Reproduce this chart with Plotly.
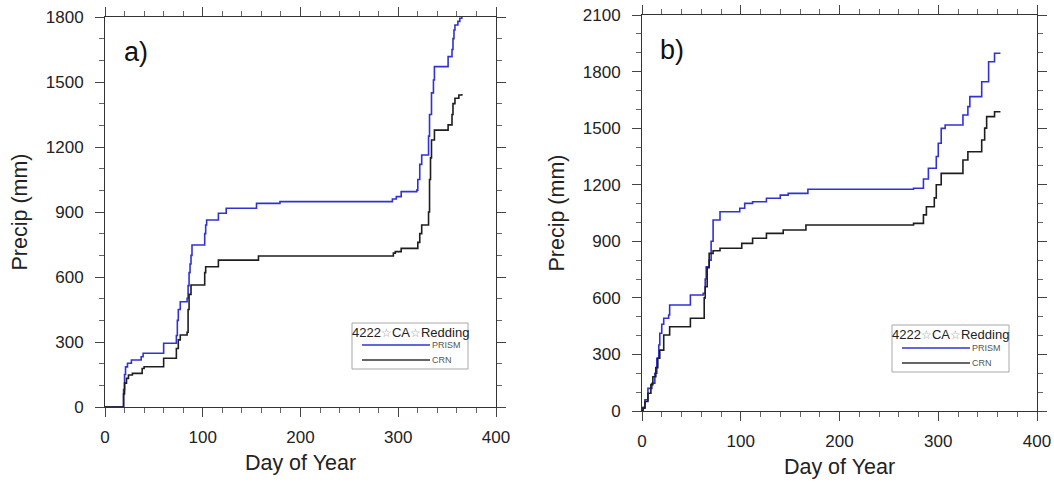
import plotly.graph_objects as go

W, H = 1054, 482

# ---------------- data ----------------
# Panel a)
a_prism_day = [0, 18, 19, 20, 21, 23, 27, 37, 39, 60, 73, 74, 75, 77, 84, 85, 86, 87, 88, 89,
               102, 103, 104, 116, 124, 155, 179, 294, 298, 303, 319, 320, 322, 324, 331, 332,
               334, 336, 337, 351, 355, 356, 357, 358, 361, 363, 365]
a_prism_val = [0, 0, 80, 150, 185, 202, 217, 232, 248, 294, 330, 400, 450, 486, 502, 560, 620, 660, 700, 748,
               800, 840, 863, 894, 917, 940, 948, 960, 971, 994, 1001, 1050, 1120, 1163, 1250, 1350,
               1450, 1509, 1571, 1617, 1650, 1700, 1740, 1763, 1780, 1794, 1800]
a_crn_day = [0, 18, 19, 20, 22, 24, 28, 38, 40, 60, 73, 75, 77, 84, 85, 86, 88, 102, 103, 116, 157,
             295, 297, 303, 320, 322, 324, 331, 332, 333, 334, 337, 351, 355, 356, 358, 362, 365]
a_crn_val = [0, 0, 60, 110, 132, 148, 155, 178, 186, 225, 270, 310, 332, 345, 450, 520, 563, 620, 647, 678, 697,
             710, 717, 732, 760, 800, 840, 900, 1050, 1150, 1232, 1278, 1302, 1350, 1400, 1425, 1440, 1445]

# Panel b)
b_prism_day = [0, 1, 3, 6, 10, 13, 15, 17, 18, 20, 22, 27, 28, 49, 62, 64, 65, 68, 70, 72, 79, 99, 104,
               112, 126, 140, 148, 168, 275, 285, 290, 298, 300, 303, 307, 325, 330, 332, 344, 351, 357, 363]
b_prism_val = [0, 20, 60, 120, 147, 200, 280, 350, 412, 460, 492, 509, 562, 615, 624, 700, 765, 800, 900, 1013,
               1057, 1075, 1101, 1110, 1128, 1145, 1154, 1176, 1181, 1230, 1287, 1350, 1420, 1499, 1517,
               1570, 1614, 1667, 1746, 1852, 1897, 1897]
b_crn_day = [0, 1, 3, 6, 9, 11, 14, 16, 18, 22, 28, 49, 63, 64, 66, 68, 72, 79, 101, 112, 126, 143, 166,
             275, 285, 288, 296, 298, 303, 325, 330, 344, 347, 349, 357, 363]
b_crn_val = [0, 15, 50, 94, 140, 182, 230, 280, 323, 403, 447, 492, 600, 659, 760, 836, 850, 863, 889, 916,
             942, 960, 986, 995, 1040, 1083, 1130, 1200, 1260, 1331, 1375, 1437, 1500, 1561, 1587, 1587]

x_ticks = [0, 100, 200, 300, 400]
a_y_ticks = [0, 300, 600, 900, 1200, 1500, 1800]
b_y_ticks = [0, 300, 600, 900, 1200, 1500, 1800, 2100]
panel_labels = ["a)", "b)"]
STAR = "<span style='color:#9a9a9a;font-size:12px'>☆</span>"
legend_title = "4222" + STAR + "CA" + STAR + "Redding"
series_names = ["PRISM", "CRN"]

BLUE = "#3232d2"
BLACK = "#1e1e1e"
FONT = "Liberation Sans, Arial, Helvetica, sans-serif"

def px(x):
    return x / W

def py(y):
    return 1 - y / H

fig = go.Figure()
fig.add_trace(go.Scatter(x=a_prism_day, y=a_prism_val, mode="lines", line=dict(color=BLUE, width=1.6, shape="hv"),
                         xaxis="x", yaxis="y", showlegend=False, name="PRISM"))
fig.add_trace(go.Scatter(x=a_crn_day, y=a_crn_val, mode="lines", line=dict(color=BLACK, width=1.6, shape="hv"),
                         xaxis="x", yaxis="y", showlegend=False, name="CRN"))
fig.add_trace(go.Scatter(x=b_prism_day, y=b_prism_val, mode="lines", line=dict(color=BLUE, width=1.6, shape="hv"),
                         xaxis="x2", yaxis="y2", showlegend=False, name="PRISM"))
fig.add_trace(go.Scatter(x=b_crn_day, y=b_crn_val, mode="lines", line=dict(color=BLACK, width=1.6, shape="hv"),
                         xaxis="x2", yaxis="y2", showlegend=False, name="CRN"))

axis_common = dict(showgrid=False, zeroline=False, showline=True, linecolor="#333", linewidth=1,
                   mirror="allticks", ticks="outside", ticklen=9, tickwidth=1, tickcolor="#444",
                   automargin=False,
                   tickfont=dict(family=FONT, size=17, color="#222"))

def xaxis(domain, anchor):
    return dict(axis_common, domain=domain, anchor=anchor, range=[0, 400], tickvals=x_ticks,
                minor=dict(dtick=20, tick0=0, ticks="outside", ticklen=5, tickcolor="#666"),
                ticklabelstandoff=6,
                title=dict(text="Day of Year", font=dict(family=FONT, size=21.5, color="#222"), standoff=8))

def yaxis(domain, anchor, top, ticks):
    return dict(axis_common, domain=domain, anchor=anchor, range=[0, top], tickvals=ticks,
                minor=dict(dtick=100, tick0=0, ticks="outside", ticklen=5, tickcolor="#666"),
                ticklabelstandoff=8,
                title=dict(text="Precip (mm)", font=dict(family=FONT, size=21.5, color="#222"), standoff=12))

fig.update_layout(
    width=W, height=H, margin=dict(l=0, r=0, t=0, b=0, autoexpand=False),
    paper_bgcolor="white", plot_bgcolor="white",
    xaxis=xaxis([px(105), px(496)], "y"),
    yaxis=yaxis([py(407), py(17)], "x", 1800, a_y_ticks),
    xaxis2=xaxis([px(642), px(1037)], "y2"),
    yaxis2=yaxis([py(411), py(15)], "x2", 2100, b_y_ticks),
)

annotations = []
shapes = []
# panel labels
for lab, (lx, ly) in zip(panel_labels, [(122, 52), (658, 50)]):
    annotations.append(dict(text=lab, x=px(lx), y=py(ly), xref="paper", yref="paper", xanchor="left",
                            yanchor="middle", showarrow=False, font=dict(family=FONT, size=27, color="#111")))

# legends (box, title, sample lines)
for (bx0, by0, bx1, by1, lx0, lx1, ly1, ly2) in [(352, 323, 468, 369, 362, 430, 345, 360),
                                                  (892, 325, 1009, 372, 902, 970, 348, 363)]:
    shapes.append(dict(type="rect", xref="paper", yref="paper", x0=px(bx0), x1=px(bx1), y0=py(by1), y1=py(by0),
                       line=dict(color="#a8a8a8", width=1), fillcolor="white", layer="above"))
    annotations.append(dict(text=legend_title, x=px((bx0 + bx1) / 2), y=py(by0 + 9), xref="paper", yref="paper",
                            xanchor="center", yanchor="middle", showarrow=False,
                            font=dict(family=FONT, size=13, color="#222")))
    for name, ly, col in zip(series_names, [ly1, ly2], [BLUE, "#333"]):
        shapes.append(dict(type="line", xref="paper", yref="paper", x0=px(lx0), x1=px(lx1), y0=py(ly), y1=py(ly),
                           line=dict(color=col, width=1.6), layer="above"))
        annotations.append(dict(text=name, x=px(lx1), y=py(ly), xref="paper", yref="paper", xanchor="left",
                                yanchor="middle", showarrow=False, font=dict(family=FONT, size=9, color="#555")))

fig.update_layout(annotations=annotations, shapes=shapes)
fig.write_html("out.html")
